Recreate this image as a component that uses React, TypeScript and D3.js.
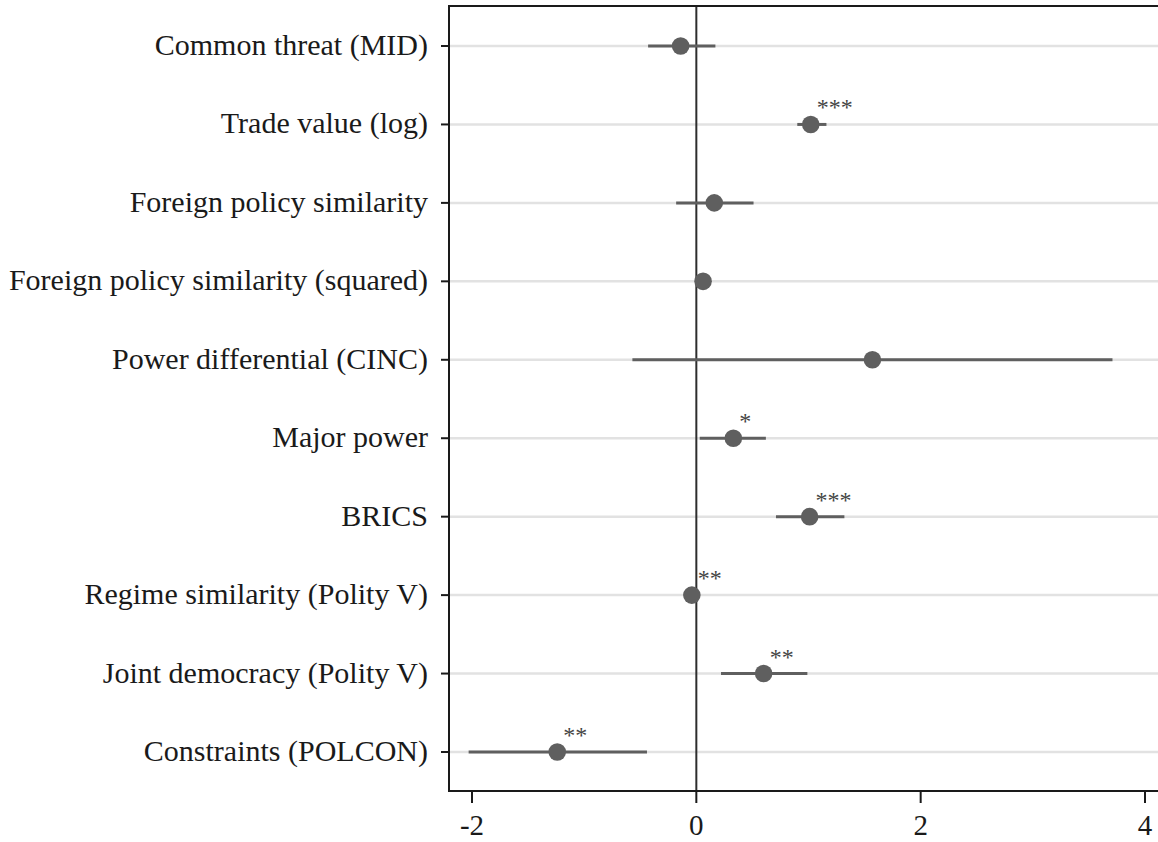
import React from "react";
import * as d3 from "d3";

const categories: string[] = [
  "Common threat (MID)",
  "Trade value (log)",
  "Foreign policy similarity",
  "Foreign policy similarity (squared)",
  "Power differential (CINC)",
  "Major power",
  "BRICS",
  "Regime similarity (Polity V)",
  "Joint democracy (Polity V)",
  "Constraints (POLCON)",
];
const estimates: number[] = [-0.14, 1.02, 0.16, 0.06, 1.57, 0.33, 1.01, -0.04, 0.6, -1.24];
const lowerCI: number[] = [-0.43, 0.9, -0.18, 0.01, -0.57, 0.03, 0.71, -0.07, 0.22, -2.03];
const upperCI: number[] = [0.17, 1.16, 0.51, 0.12, 3.71, 0.62, 1.32, -0.01, 0.99, -0.44];
const stars: string[] = ["", "***", "", "", "", "*", "***", "**", "**", "**"];
const xTicks: number[] = [-2, 0, 2, 4];

const W = 1158;
const H = 842;
const FONT = "'Liberation Serif', 'Times New Roman', serif";

export default function App() {
  const left = 449;
  const top = 6;
  const bottom = 791;
  const x = d3.scaleLinear().domain([-2, 4]).range([472, 1145]);
  const y = d3.scalePoint<string>().domain(categories).range([46, 752]);
  const axisColor = "#1a1a1a";
  const markColor = "#5f5f5f";

  return (
    <svg
      width={W}
      height={H}
      style={{ position: "absolute", left: 0, top: 0, background: "#fff" }}
    >
      {/* horizontal reference lines */}
      {categories.map((c) => (
        <line
          key={"g" + c}
          x1={left}
          x2={W}
          y1={y(c)}
          y2={y(c)}
          stroke="#e2e2e2"
          strokeWidth={2.5}
        />
      ))}
      {/* zero line */}
      <line x1={x(0)} x2={x(0)} y1={top} y2={bottom} stroke="#2e2e2e" strokeWidth={2} />
      {/* frame */}
      <line x1={left} x2={W} y1={top} y2={top} stroke={axisColor} strokeWidth={2} />
      <line x1={left} x2={left} y1={top - 1} y2={bottom + 1} stroke={axisColor} strokeWidth={2} />
      <line x1={left} x2={W} y1={bottom} y2={bottom} stroke={axisColor} strokeWidth={2} />
      {/* y ticks and labels */}
      {categories.map((c) => (
        <g key={"y" + c}>
          <line x1={left - 8} x2={left} y1={y(c)} y2={y(c)} stroke={axisColor} strokeWidth={2} />
          <text
            x={428}
            y={(y(c) as number) + 9}
            textAnchor="end"
            fontFamily={FONT}
            fontSize={30}
            fill="#1a1a1a"
          >
            {c}
          </text>
        </g>
      ))}
      {/* x ticks and labels */}
      {xTicks.map((t) => (
        <g key={"x" + t}>
          <line x1={x(t)} x2={x(t)} y1={bottom} y2={bottom + 12} stroke={axisColor} strokeWidth={2} />
          <text
            x={x(t)}
            y={835}
            textAnchor="middle"
            fontFamily={FONT}
            fontSize={29}
            fill="#1a1a1a"
          >
            {t}
          </text>
        </g>
      ))}
      {/* confidence intervals and estimates */}
      {categories.map((c, i) => {
        const cy = y(c) as number;
        return (
          <g key={"m" + c}>
            <line
              x1={x(lowerCI[i])}
              x2={x(upperCI[i])}
              y1={cy}
              y2={cy}
              stroke={markColor}
              strokeWidth={3}
            />
            <circle cx={x(estimates[i])} cy={cy} r={8.8} fill={markColor} />
            {stars[i] && (
              <text
                x={x(estimates[i]) + 6}
                y={cy - 9}
                fontFamily={FONT}
                fontSize={24}
                fill="#444"
              >
                {stars[i]}
              </text>
            )}
          </g>
        );
      })}
    </svg>
  );
}
